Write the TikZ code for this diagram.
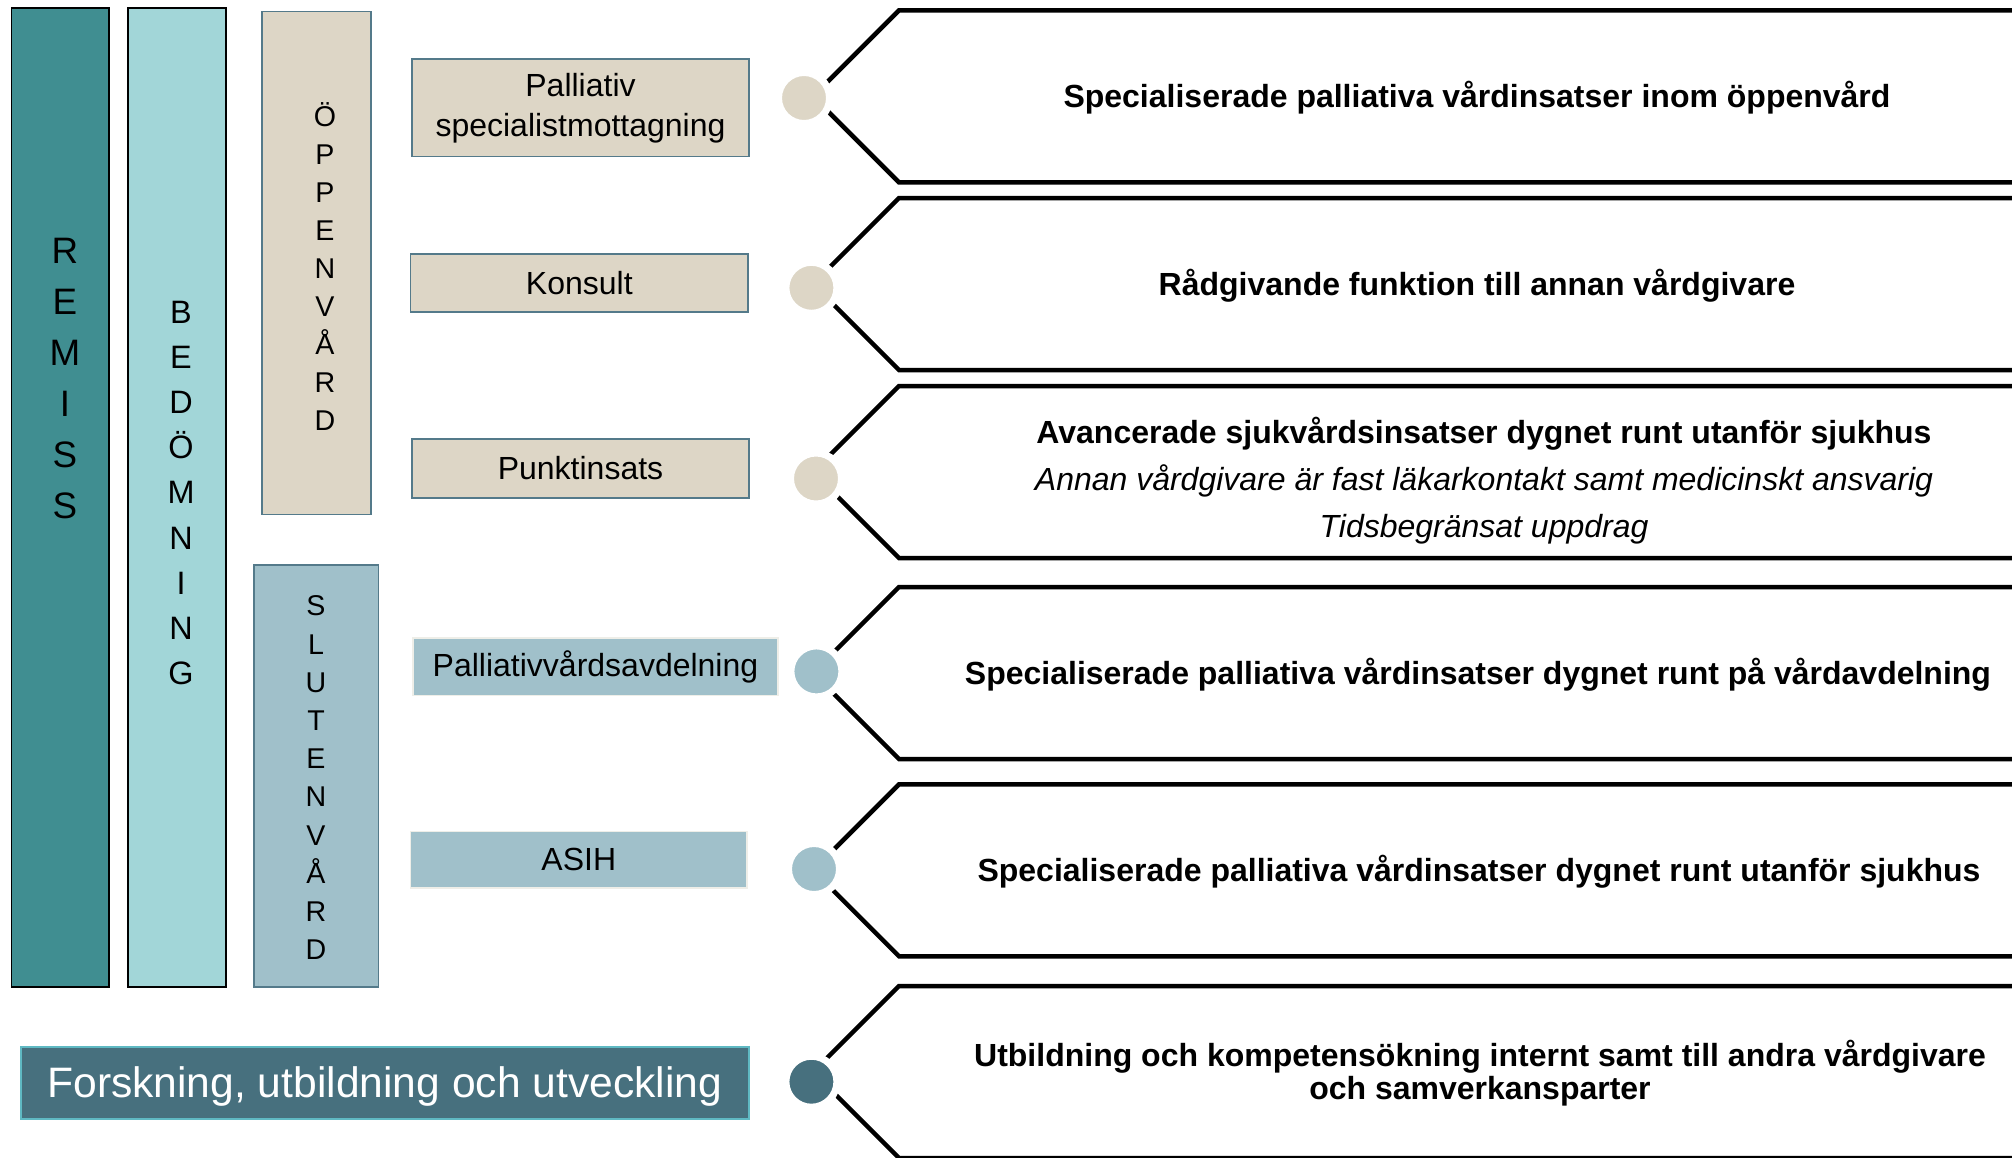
\documentclass[tikz,border=0pt]{standalone}
\usepackage{fontspec}
\setmainfont{Liberation Sans}
\definecolor{remisscol}{RGB}{64,142,145}
\definecolor{bedcol}{RGB}{162,214,216}
\definecolor{beige}{RGB}{221,214,198}
\definecolor{slate}{RGB}{84,122,138}
\definecolor{lblue}{RGB}{160,192,202}
\definecolor{dteal}{RGB}{71,112,126}
\definecolor{paleborder}{RGB}{238,238,232}
\definecolor{fborder}{RGB}{95,185,195}
\begin{document}
\begin{tikzpicture}[x=0.5pt,y=-0.5pt,
  bar/.style={draw=black, line width=0.8pt, inner sep=0pt},
  sidebar/.style={draw=slate, line width=0.9pt, inner sep=0pt},
  stack/.style={align=center, inner sep=0pt},
  box/.style={inner sep=0pt, align=center, font=\fontsize{16}{20}\selectfont},
  beigebox/.style={box, fill=beige, draw=slate, line width=0.8pt},
  bluebox/.style={box, fill=lblue, draw=paleborder, line width=0.8pt},
  dot/.style={circle, inner sep=0pt, minimum size=25.5pt, draw=white, line width=3.5pt},
  chev/.style={line width=2.25pt, line join=miter, draw=black},
  desc/.style={align=center, inner sep=0pt, font=\fontsize{16}{23.5}\selectfont\bfseries},
]
\useasboundingbox (0,0) rectangle (2012,1157);
\clip (0,0) rectangle (2012,1157);

% vertical bars
\node[bar, fill=remisscol, minimum width=48.75pt, minimum height=489.65pt] (remiss) at (60.25,497.35) {};
\node[bar, fill=bedcol, minimum width=49pt, minimum height=489.65pt] (bedomning) at (177,497.35) {};
\node[sidebar, fill=beige, minimum width=54.5pt, minimum height=251.5pt] (oppen) at (316.5,263) {};
\node[sidebar, fill=lblue, minimum width=62.25pt, minimum height=211pt] (sluten) at (316.25,776) {};

\node[stack, font=\fontsize{18.4}{25.5}\selectfont] (remisstxt) at (65,379) {R\\E\\M\\I\\S\\S};
\node[stack, font=\fontsize{16.2}{22.6}\selectfont] (bedtxt) at (181,493) {B\\E\\D\\Ö\\M\\N\\I\\N\\G};
\node[stack, font=\fontsize{14.3}{19.05}\selectfont] (oppentxt) at (325,266.5) {Ö\\P\\P\\E\\N\\V\\Å\\R\\D};
\node[stack, font=\fontsize{14.3}{19.1}\selectfont] (slutentxt) at (316,777.7) {S\\L\\U\\T\\E\\N\\V\\Å\\R\\D};

% left boxes
\node[beigebox, minimum width=168.5pt, minimum height=48.75pt] (spec) at (580.5,107.75) {Palliativ\\specialistmottagning};
\node[beigebox, minimum width=168.7pt, minimum height=29pt] (konsult) at (579.3,283) {Konsult};
\node[beigebox, minimum width=168.5pt, minimum height=29.5pt] (punkt) at (580.5,468.5) {Punktinsats};
\node[bluebox, minimum width=182.5pt, minimum height=28.75pt] (avd) at (595.5,666.75) {Palliativvårdsavdelning};
\node[bluebox, minimum width=168.2pt, minimum height=28.25pt] (asih) at (578.8,859.75) {ASIH};
\node[inner sep=0pt, fill=dteal, draw=fborder, line width=1pt, minimum width=364.25pt, minimum height=36pt] (forsk) at (384.75,1083) {};
\node[inner sep=0pt, text=white, font=\fontsize{21.3}{25}\selectfont] (forsktxt) at (384.75,1086.5) {Forskning, utbildning och utveckling};

% chevrons
\foreach \T in {10.4,198,386,587,784.3,986}{
  \draw[chev] (2016,\T) -- (899,\T) -- (813,\T+86) -- (899,\T+172) -- (2016,\T+172);
}

% dots
\node[dot, fill=beige] (d1) at (804,98) {};
\node[dot, fill=beige] (d2) at (811.4,287.8) {};
\node[dot, fill=beige] (d3) at (816,478.5) {};
\node[dot, fill=lblue] (d4) at (816.4,671.4) {};
\node[dot, fill=lblue] (d5) at (814,869) {};
\node[dot, fill=dteal] (d6) at (811.4,1081.7) {};

% descriptions
\node[desc] (t1) at (1477,97.5) {Specialiserade palliativa vårdinsatser inom öppenvård};
\node[desc] (t2) at (1477,285.5) {Rådgivande funktion till annan vårdgivare};
\node[desc] (t3) at (1484,480.5) {Avancerade sjukvårdsinsatser dygnet runt utanför sjukhus\\
  {\mdseries\itshape Annan vårdgivare är fast läkarkontakt samt medicinskt ansvarig}\\
  {\mdseries\itshape Tidsbegränsat uppdrag}};
\node[desc] (t4) at (1478,675) {Specialiserade palliativa vårdinsatser dygnet runt på vårdavdelning};
\node[desc] (t5) at (1479,871.5) {Specialiserade palliativa vårdinsatser dygnet runt utanför sjukhus};
\node[desc, font=\fontsize{16}{16.5}\selectfont\bfseries] (t6) at (1480,1073.5) {Utbildning och kompetensökning internt samt till andra vårdgivare\\och samverkansparter};
\end{tikzpicture}
\end{document}
